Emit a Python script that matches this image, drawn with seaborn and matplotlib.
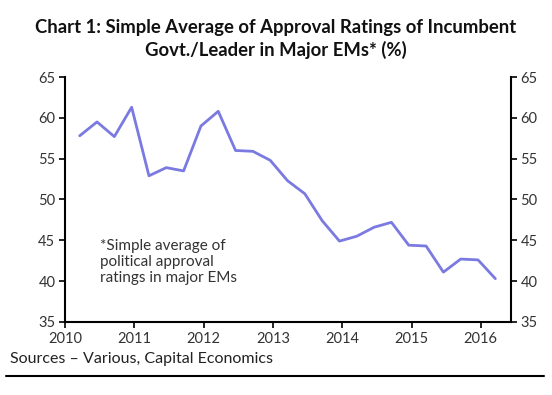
import numpy as np
import pandas as pd
import matplotlib
matplotlib.use("Agg")
import matplotlib.pyplot as plt
import seaborn as sns

# quarterly observations, mid last month of each quarter (2010Q1 .. 2016Q1)
quarters = [f"{y}Q{q}" for y in range(2010, 2017) for q in range(1, 5)][:25]
approval = [57.8, 59.5, 57.7, 61.3, 52.9, 53.9, 53.5, 59.0, 60.8, 56.0,
            55.9, 54.8, 52.3, 50.7, 47.4, 44.9, 45.5, 46.6, 47.2, 44.4,
            44.3, 41.1, 42.7, 42.6, 40.3]
year_ticks = [2010, 2011, 2012, 2013, 2014, 2015, 2016]
value_ticks = [35, 40, 45, 50, 55, 60, 65]

df = pd.DataFrame({"quarter": quarters, "approval": approval})
df["t"] = [int(s[:4]) + (int(s[-1]) - 1) * 0.25 + 0.21 for s in df["quarter"]]

sns.set_style("white")
plt.rcParams["font.family"] = ["Lato", "DejaVu Sans"]

fig = plt.figure(figsize=(5.52, 3.95), dpi=100)
ax = fig.add_axes([0.118, 0.185, 0.807, 0.62])

sns.lineplot(data=df, x="t", y="approval", ax=ax, color="#7a7ae0", linewidth=2)

ax.set_xlim(2010, 2016.43)
ax.set_ylim(35, 65)
ax.set_xticks(year_ticks)
ax.set_yticks(value_ticks)
ax.set_xlabel("")
ax.set_ylabel("")

for side in ["left", "right", "bottom"]:
    ax.spines[side].set_visible(True)
    ax.spines[side].set_color("black")
    ax.spines[side].set_linewidth(1.5)
ax.spines["top"].set_visible(False)

ax.tick_params(axis="both", which="both", direction="out", length=4, width=1.2,
               colors="black", labelcolor="#333333", labelsize=10.5,
               left=True, right=True, bottom=True, labelright=True, pad=3)

ax.text(2010.5, 45.2, "*Simple average of\npolitical approval\nratings in major EMs",
        fontsize=11, color="#333333", va="top", ha="left", linespacing=1.2)

fig.text(0.5, 0.952, "Chart 1: Simple Average of Approval Ratings of Incumbent\nGovt./Leader in Major EMs* (%)",
         ha="center", va="top", fontsize=13.3, fontweight="bold", color="#111111",
         linespacing=1.3)

fig.text(0.018, 0.092, "Sources \u2013 Various, Capital Economics", ha="left", va="center",
         fontsize=11.5, color="#222222")
fig.add_artist(plt.Line2D([0.01, 0.985], [0.048, 0.048], color="black", linewidth=1.5))

fig.savefig("out.png", dpi=100)
